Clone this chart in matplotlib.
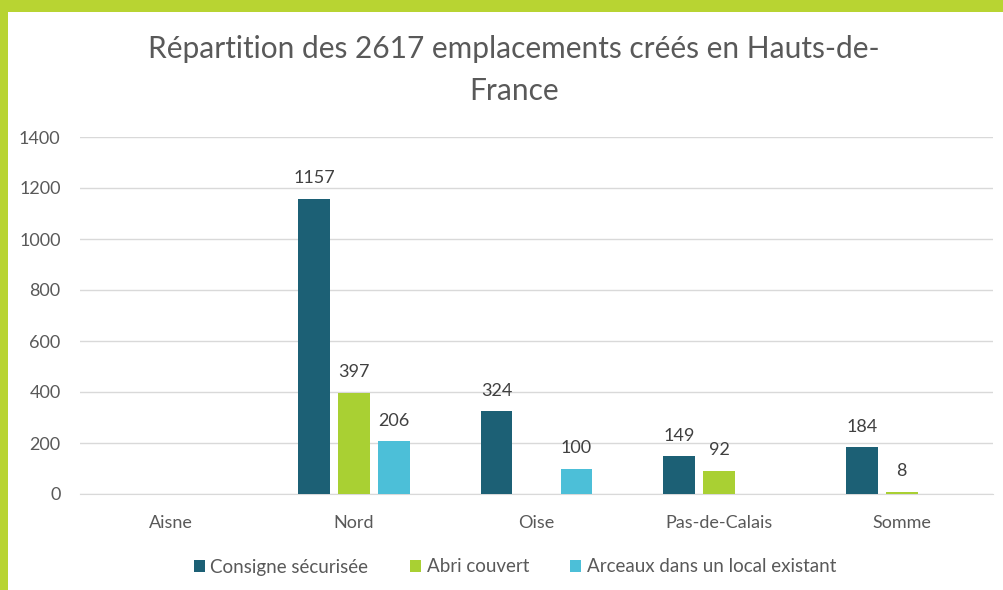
import numpy as np
import matplotlib
matplotlib.use("Agg")
import matplotlib.pyplot as plt
from matplotlib.patches import Rectangle, Patch

# --- Data ---
departements = ["Aisne", "Nord", "Oise", "Pas-de-Calais", "Somme"]
consigne = [0, 1157, 324, 149, 184]
abri = [0, 397, 0, 92, 8]
arceaux = [0, 206, 100, 0, 0]
series_names = ["Consigne sécurisée", "Abri couvert", "Arceaux dans un local existant"]
colors = ["#1c6075", "#a9d033", "#4cbfd8"]

plt.rcParams["font.family"] = ["Lato", "DejaVu Sans"]
grey = "#595959"

fig = plt.figure(figsize=(10.04, 5.90), dpi=100)
fig.patch.set_facecolor("#b8d432")
# white card inside the green border
fig.patches.append(Rectangle((8 / 1004, 0), 1, 1 - 12 / 590,
                             transform=fig.transFigure, facecolor="white",
                             edgecolor="none", zorder=-10))

ax = fig.add_axes([80 / 1004, 1 - 494 / 590, 913 / 1004, 357 / 590])
ax.set_facecolor("none")

x = np.arange(len(departements))
w = 0.175
step = 0.219
all_series = [consigne, abri, arceaux]
for i, (vals, c) in enumerate(zip(all_series, colors)):
    pos = x + (i - 1) * step
    ax.bar(pos, vals, width=w, color=c, zorder=3)
    for p, v in zip(pos, vals):
        if v > 0:
            ax.annotate(str(v), (p, v), xytext=(0, 9), textcoords="offset points",
                        ha="center", va="bottom", fontsize=13, color="#404040")

ax.set_xlim(-0.5, len(departements) - 0.5)
ax.set_ylim(0, 1400)
ax.set_yticks(range(0, 1401, 200))
ax.set_xticks(x)
ax.set_xticklabels(departements)
ax.tick_params(axis="both", length=0, labelsize=13, colors=grey)
ax.tick_params(axis="x", pad=15)
ax.tick_params(axis="y", pad=14)
ax.grid(axis="y", color="#d9d9d9", linewidth=1, zorder=0)
for s in ["top", "right", "left"]:
    ax.spines[s].set_visible(False)
ax.spines["bottom"].set_color("#d9d9d9")

fig.text(0.512, 1 - 49 / 590, "Répartition des 2617 emplacements créés en Hauts-de-",
         ha="center", va="center", fontsize=21.5, color=grey)
fig.text(0.512, 1 - 91 / 590, "France", ha="center", va="center", fontsize=21.5, color=grey)

handles = [Patch(facecolor=c, label=n) for c, n in zip(colors, series_names)]
fig.legend(handles=handles, loc="center", bbox_to_anchor=(0.513, 1 - 567 / 590),
           ncol=3, frameon=False, fontsize=13.5, labelcolor=grey,
           handlelength=0.6, handleheight=0.6, handletextpad=0.3, columnspacing=2.2)

fig.savefig("out.png", dpi=100, facecolor=fig.get_facecolor())
